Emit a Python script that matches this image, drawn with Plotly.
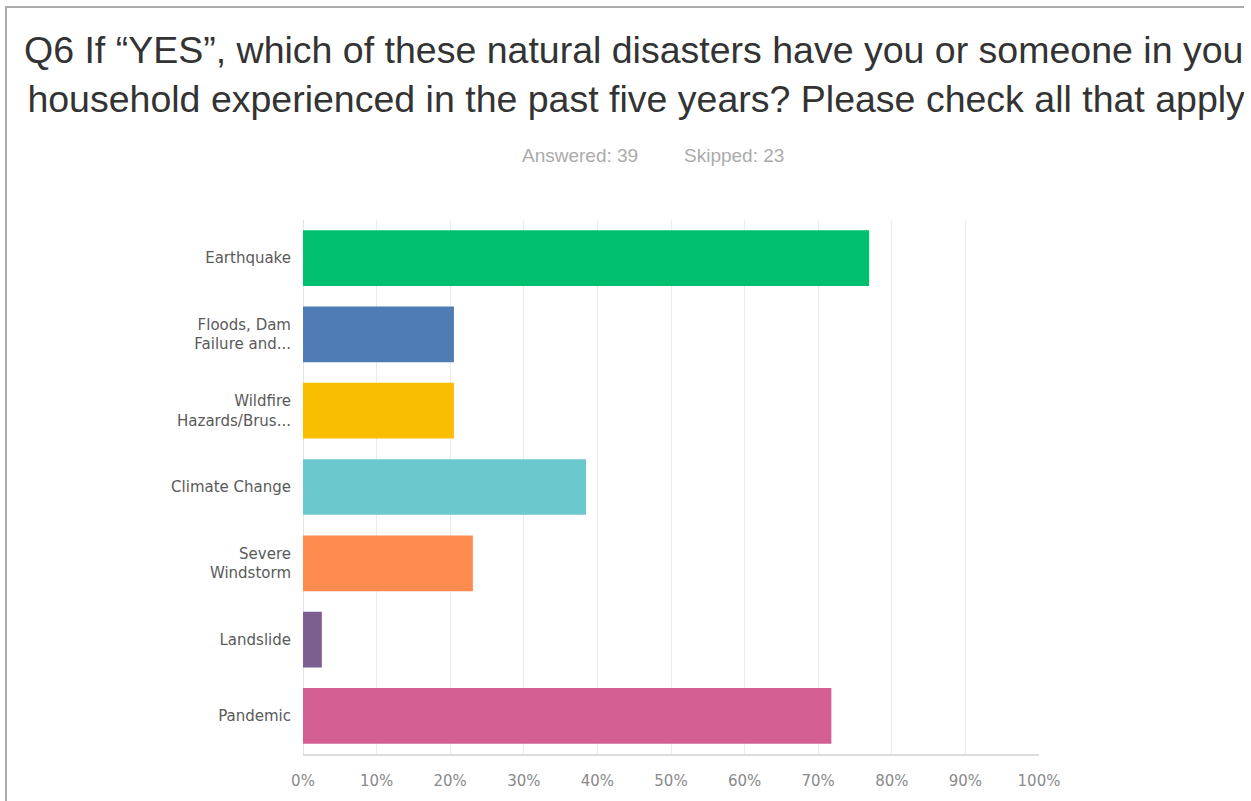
import plotly.graph_objects as go

# Survey responses (share of respondents, %)
categories = [
    "Earthquake",
    "Floods, Dam<br>Failure and...",
    "Wildfire<br>Hazards/Brus...",
    "Climate Change",
    "Severe<br>Windstorm",
    "Landslide",
    "Pandemic",
]
percent = [76.92, 20.51, 20.51, 38.46, 23.08, 2.56, 71.79]
bar_colors = ["#00bf6f", "#507cb6", "#f9be00", "#6bc8cd", "#ff8b4f", "#7d5e90", "#d25f90"]
tick_values = [0, 10, 20, 30, 40, 50, 60, 70, 80, 90, 100]
tick_labels = [f"{v}%" for v in tick_values]
answered, skipped = 39, 23

W, H = 1244, 801
L, R, T, B = 303, 205, 220, 47
plot_w = W - L - R
plot_h = H - T - B


def px_x(px):
    return (px - L) / plot_w


def px_y(py):
    return (H - B - py) / plot_h


fig = go.Figure(
    go.Bar(
        x=percent,
        y=categories,
        orientation="h",
        marker=dict(color=bar_colors, line=dict(width=0)),
        width=0.73,
        hoverinfo="x+y",
    )
)

fig.update_layout(
    width=W,
    height=H,
    margin=dict(l=L, r=R, t=T, b=B, pad=0),
    paper_bgcolor="white",
    plot_bgcolor="white",
    showlegend=False,
    bargap=0.27,
    xaxis=dict(
        range=[0, 100],
        tickvals=tick_values,
        ticktext=tick_labels,
        showgrid=True,
        gridcolor="#ebebeb",
        gridwidth=1,
        zeroline=True,
        zerolinecolor="#e4e4e4",
        zerolinewidth=1,
        showline=True,
        linecolor="#dcdcdc",
        linewidth=2,
        ticks="",
        ticklabelstandoff=12,
        tickfont=dict(family="DejaVu Sans", size=15, color="#8a8a8a"),
        fixedrange=True,
    ),
    yaxis=dict(
        autorange="reversed",
        showgrid=False,
        zeroline=False,
        showline=False,
        ticks="",
        ticklabelstandoff=11,
        tickfont=dict(family="DejaVu Sans", size=15, color="#5a5a5a"),
        fixedrange=True,
    ),
)

# Frame around the card
fig.add_shape(
    type="path",
    xref="paper",
    yref="paper",
    path=f"M {px_x(6)} {px_y(820)} L {px_x(6)} {px_y(7)} L {px_x(1260)} {px_y(7)}",
    line=dict(color="#ababab", width=2),
    layer="above",
)

# Question title
fig.add_annotation(
    xref="paper",
    yref="paper",
    x=px_x(640),
    y=px_y(74),
    xanchor="center",
    yanchor="middle",
    showarrow=False,
    align="center",
    text="Q6 If \u201cYES\u201d, which of these natural disasters have you or someone in your<br>"
    "household experienced in the past five years? Please check all that apply.",
    font=dict(family="Liberation Sans", size=37.5, color="#333333"),
)

# Response counts
fig.add_annotation(
    xref="paper", yref="paper", x=px_x(580), y=px_y(156),
    xanchor="center", yanchor="middle", showarrow=False,
    text=f"Answered: {answered}",
    font=dict(family="Liberation Sans", size=19, color="#ababab"),
)
fig.add_annotation(
    xref="paper", yref="paper", x=px_x(734), y=px_y(156),
    xanchor="center", yanchor="middle", showarrow=False,
    text=f"Skipped: {skipped}",
    font=dict(family="Liberation Sans", size=19, color="#ababab"),
)

fig.write_html("out.html", config={"displayModeBar": False})
